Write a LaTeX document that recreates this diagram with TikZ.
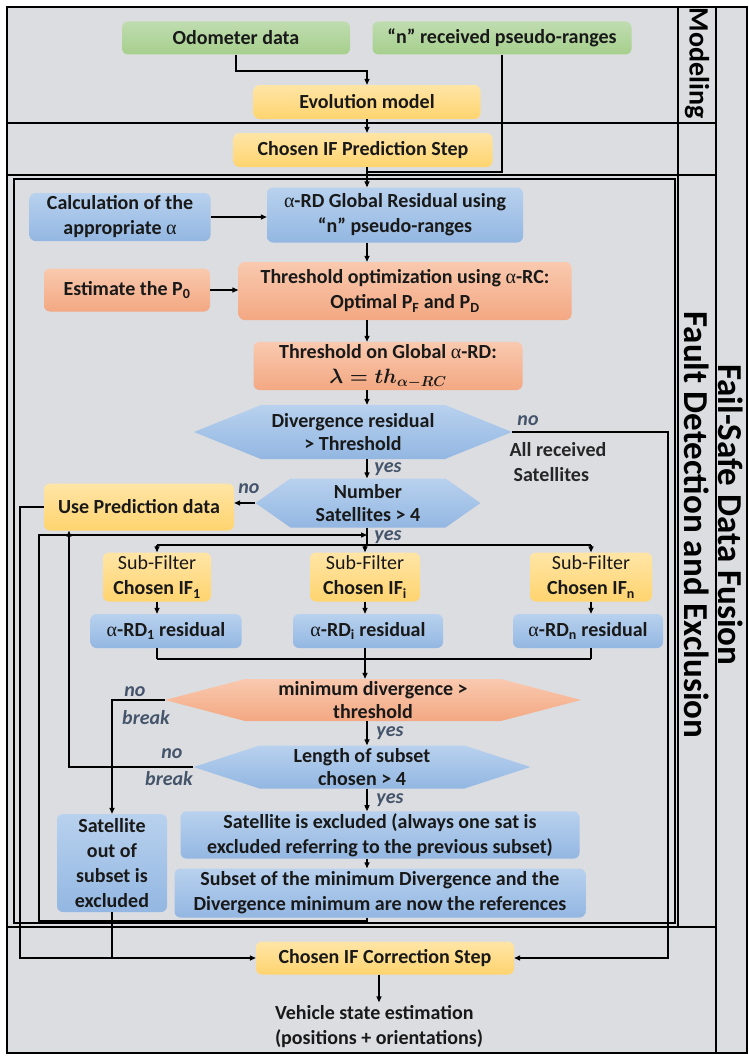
\documentclass[tikz,border=0pt]{standalone}
\usepackage{fontspec}
\setmainfont{Carlito}
\newfontfamily\symbfont{Liberation Serif}
\usetikzlibrary{arrows.meta}

\definecolor{bggray}{HTML}{DCDDE1}
\definecolor{greentop}{HTML}{BFDCB0}
\definecolor{greenbot}{HTML}{A6CF8C}
\definecolor{yellowtop}{HTML}{FFE5A6}
\definecolor{yellowbot}{HTML}{FFD46F}
\definecolor{bluetop}{HTML}{B8D1EE}
\definecolor{bluebot}{HTML}{93B7E2}
\definecolor{salmtop}{HTML}{F9C9AF}
\definecolor{salmbot}{HTML}{F3A882}
\definecolor{labelgray}{HTML}{44546A}

\newcommand{\alf}{{\symbfont\mdseries α}}
\newcommand{\boxfont}{\fontsize{20}{25}\selectfont}

\tikzset{
  box/.style={rounded corners=6pt, align=center, font=\boxfont\bfseries, text=black!90, inner sep=2pt},
  greenbox/.style={box, top color=greentop, bottom color=greenbot},
  yellowbox/.style={box, top color=yellowtop, bottom color=yellowbot},
  bluebox/.style={box, top color=bluetop, bottom color=bluebot},
  salmbox/.style={box, top color=salmtop, bottom color=salmbot},
  hexa/.style n args={3}{align=center, font=\fontsize{20}{23}\selectfont\bfseries, text=black!90, inner sep=0pt, fill=bggray,
    path picture={\shade[top color=#2, bottom color=#3]
      (path picture bounding box.west)
      -- ([xshift=#1]path picture bounding box.north west)
      -- ([xshift=-#1]path picture bounding box.north east)
      -- (path picture bounding box.east)
      -- ([xshift=-#1]path picture bounding box.south east)
      -- ([xshift=#1]path picture bounding box.south west) -- cycle;}},
  hexblue/.style={hexa={#1}{bluetop}{bluebot}},
  hexsalm/.style={hexa={#1}{salmtop}{salmbot}},
  lbl/.style={font=\boxfont\bfseries\itshape, text=labelgray, inner sep=0pt},
  conn/.style={line width=1.3pt, ->},
  wire/.style={line width=1.3pt},
  grid/.style={line width=2.5pt},
  >={Triangle[length=6pt,width=5pt]}
}

\begin{document}
\begin{tikzpicture}[x=1pt, y=-1pt]
\useasboundingbox (0,0) rectangle (749,1057);

% table frame
\fill[bggray] (7,7) rectangle (747,1053);
\draw[grid] (7,7) rectangle (747,1053);
\draw[grid] (716,7) -- (716,1053);
\draw[grid] (678,7) -- (678,927);
\draw[grid] (7,123) -- (716,123);
\draw[grid] (7,175) -- (716,175);
\draw[grid] (7,927) -- (716,927);
\draw[line width=1.5pt] (14,179) rectangle (675,923);

\node[rotate=-90, font=\fontsize{28}{30}\selectfont\bfseries] (modl) at (697,63) {Modeling};
\node[rotate=-90, font=\fontsize{35}{40}\selectfont\bfseries] (fdel) at (697,525) {Fault Detection and Exclusion};
\node[rotate=-90, font=\fontsize{35}{40}\selectfont\bfseries] (fsl) at (731,515) {Fail-Safe Data Fusion};

% modeling
\node[greenbox, minimum width=228, minimum height=33] (odo) at (236,38) {Odometer data};
\node[greenbox, minimum width=259, minimum height=33] (psr) at (502,38) {“n” received pseudo-ranges};
\node[yellowbox, minimum width=227, minimum height=34] (evo) at (367,102) {Evolution model};
\node[yellowbox, minimum width=259, minimum height=34] (pred) at (363,150) {Chosen IF Prediction Step};

\coordinate (odoturn) at (236,71);
\coordinate (psrturn) at (367,172);
\draw[conn] (odo.south) -- (odoturn) -| (evo.north);
\draw[conn] (evo.south) -- (evo.south |- pred.north);
\draw[wire] (psr.south) |- (psrturn);

% fault detection
\node[bluebox, minimum width=181, minimum height=48] (calc) at (120,217) {Calculation of the\\appropriate \alf};
\node[bluebox, minimum width=256, minimum height=55] (glob) at (395,215) {\alf-RD Global Residual using\\“n” pseudo-ranges};
\node[salmbox, minimum width=166, minimum height=43] (p0) at (127,290) {Estimate the P\textsubscript{0}};
\node[salmbox, minimum width=333, minimum height=58] (opt) at (405,291) {Threshold optimization using \alf-RC:\\Optimal P\textsubscript{F} and P\textsubscript{D}};
\node[salmbox, minimum width=269, minimum height=48] (thg) at (388,366) {Threshold on Global \alf-RD:\\{\boldmath$\lambda = th_{\alpha-RC}$}};

\draw[conn] (evo.south |- pred.south) -- (evo.south |- glob.north);
\draw[conn] (calc.east) -- (calc.east -| glob.west);
\draw[conn] (evo.south |- glob.south) -- (evo.south |- opt.north);
\draw[conn] (p0.east) -- (p0.east -| opt.west);
\draw[conn] (evo.south |- opt.south) -- (evo.south |- thg.north);

\node[hexblue=67pt, minimum width=318, minimum height=54] (div) at (353,432) {Divergence residual\\> Threshold};
\node[hexblue=35pt, minimum width=225, minimum height=49] (num) at (368,503) {Number\\Satellites > 4};
\node[yellowbox, minimum width=190, minimum height=47] (usep) at (139,507) {Use Prediction data};
\node[font=\boxfont\bfseries, text=black!85, align=left] (allr) at (558,462) {All received\\\hspace{4pt}Satellites};

\draw[conn] (evo.south |- thg.south) -- (evo.south |- div.north);
\draw[conn] (evo.south |- div.south) -- (evo.south |- num.north);
\draw[conn] (num.west) -- (num.west -| usep.east);
\node[lbl] at (528,421) {no};
\node[lbl] at (388,469) {yes};
\node[lbl] at (249,489) {no};
\node[lbl] at (388,537) {yes};

% sub-filters
\coordinate (split) at (367,545);
\coordinate (merge) at (365,659);
\node[yellowbox, minimum width=108, minimum height=49] (IF1) at (157,577) {\mdseries Sub-Filter\\Chosen IF\textsubscript{1}};
\node[yellowbox, minimum width=110, minimum height=49] (IFi) at (365,577) {\mdseries Sub-Filter\\Chosen IF\textsubscript{i}};
\node[yellowbox, minimum width=122, minimum height=49] (IFn) at (591,577) {\mdseries Sub-Filter\\Chosen IF\textsubscript{n}};
\node[bluebox, minimum width=151, minimum height=34] (RD1) at (166,631) {\alf-RD\textsubscript{1} residual};
\node[bluebox, minimum width=150, minimum height=34] (RDi) at (368,631) {\alf-RD\textsubscript{i} residual};
\node[bluebox, minimum width=150, minimum height=34] (RDn) at (588,631) {\alf-RD\textsubscript{n} residual};

\draw[wire] (evo.south |- num.south) -- (split);
\draw[wire] (IF1.north |- split) -- (IFn.north |- split);
\foreach \f/\r in {IF1/RD1, IFi/RDi, IFn/RDn} {
  \draw[conn] (\f.north |- split) -- (\f.north);
  \draw[conn] (\f.south) -- (\f.south |- \r.north);
  \draw[wire] (\f.south |- \r.south) -- (\f.south |- merge);
}
\draw[wire] (IF1.south |- merge) -- (IFn.south |- merge);

% exclusion
\node[hexsalm=80pt, minimum width=416, minimum height=42] (mind) at (373,700) {minimum divergence >\\threshold};
\node[hexblue=66pt, minimum width=337, minimum height=43] (len) at (362,767) {Length of subset\\chosen > 4};
\node[bluebox, minimum width=399, minimum height=47] (satx) at (380,835) {Satellite is excluded (always one sat is\\excluded referring to the previous subset)};
\node[bluebox, minimum width=411, minimum height=49] (subs) at (380,893) {Subset of the minimum Divergence and the\\Divergence minimum are now the references};
\node[bluebox, minimum width=110, minimum height=98] (sout) at (112,863) {Satellite\\out of\\subset is\\excluded};

\coordinate (lturn) at (69,767);
\coordinate (loopa) at (39,921);
\coordinate (loopb) at (39,535);
\draw[conn] (merge) -- (merge |- mind.north);
\draw[conn] (evo.south |- mind.south) -- (evo.south |- len.north);
\draw[conn] (mind.west) -| (sout.north);
\draw[conn] (len.west) -- (lturn) -- (lturn |- usep.south);
\draw[conn] (evo.south |- len.south) -- (evo.south |- satx.north);
\draw[conn] (evo.south |- satx.south) -- (evo.south |- subs.north);
\draw[conn] (evo.south |- subs.south) -- (evo.south |- loopa) -- (loopa) -- (loopb) -- (evo.south |- loopb);
\node[lbl] at (135,692) {no};
\node[lbl] at (146,718) {break};
\node[lbl] at (172,754) {no};
\node[lbl] at (169,779) {break};
\node[lbl] at (390,733.5) {yes};
\node[lbl] at (390,800) {yes};

% correction
\node[yellowbox, minimum width=258, minimum height=33] (corr) at (385,958) {Chosen IF Correction Step};
\node[font=\boxfont\bfseries, text=black!90, align=left] (veh) at (379,1027) {Vehicle state estimation\\(positions + orientations)};

\coordinate (uturn) at (20,958);
\coordinate (rturn) at (668,958);
\draw[conn] (usep.west) -| (uturn) -- (corr.west);
\draw[wire] (sout.south) -- (sout.south |- uturn);
\draw[conn] (div.east) -| (rturn) -- (corr.east);
\draw[conn] (corr.south -| veh.north) -- (veh.north);
\end{tikzpicture}
\end{document}
